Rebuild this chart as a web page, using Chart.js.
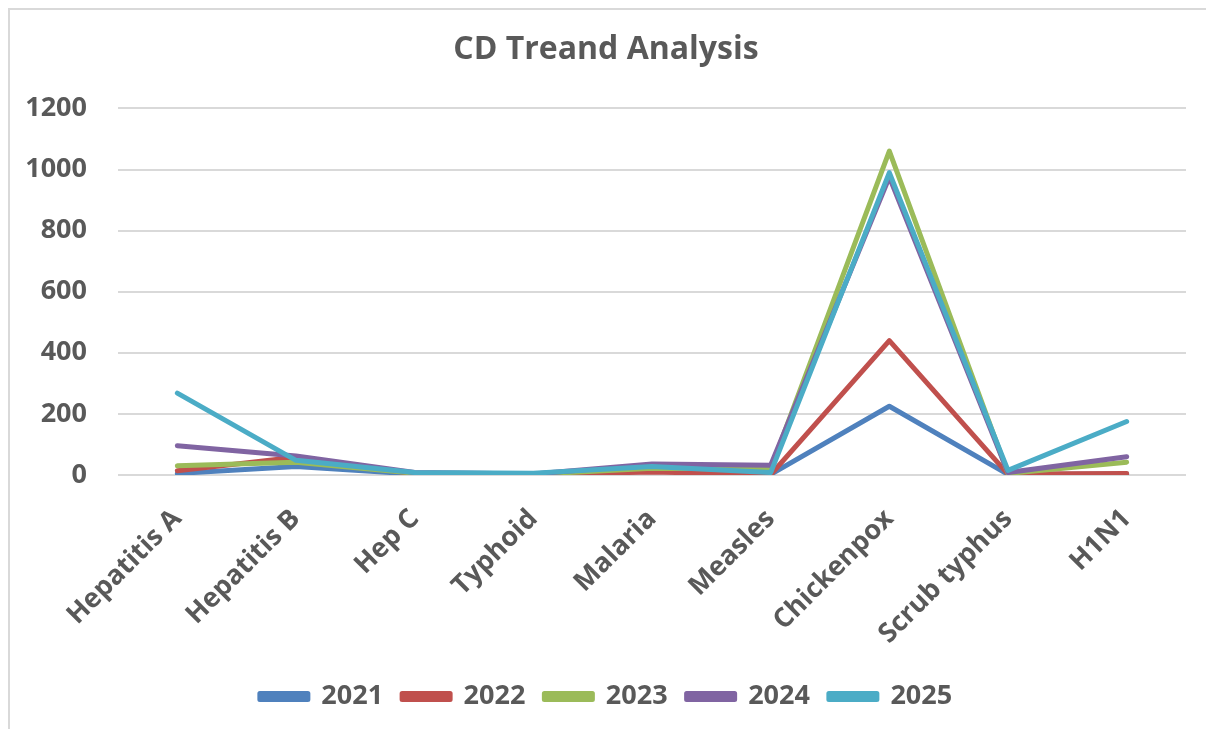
<!DOCTYPE html>
<html>
<head>
<meta charset="utf-8">
<title>CD Treand Analysis</title>
<script src="https://cdn.jsdelivr.net/npm/chart.js@4/dist/chart.umd.min.js"></script>
<style>
  html, body { margin: 0; padding: 0; background: #fff; overflow: hidden; }
  #wrap { position: relative; width: 1206px; height: 729px; }
  #frame {
    position: absolute; left: 8px; top: 8px; width: 1300px; height: 800px;
    border-left: 2px solid #d9d9d9; border-top: 2px solid #d9d9d9;
    pointer-events: none;
  }
  canvas { position: absolute; left: 0; top: 0; }
</style>
</head>
<body>
<div id="wrap">
  <div id="frame"></div>
  <canvas id="cdChart" width="1206" height="729"></canvas>
</div>
<script>
const diseases = ["Hepatitis A", "Hepatitis B", "Hep C", "Typhoid", "Malaria", "Measles", "Chickenpox", "Scrub typhus", "H1N1"];

const cases2021 = [5, 28, 3, 1, 15, 2, 225, 2, 3];
const cases2022 = [14, 58, 4, 1, 10, 1, 440, 3, 5];
const cases2023 = [30, 42, 6, 2, 22, 20, 1060, 5, 42];
const cases2024 = [96, 62, 8, 3, 36, 32, 975, 8, 60];
const cases2025 = [268, 48, 8, 6, 28, 8, 990, 15, 175];

const yearLabels = ["2021", "2022", "2023", "2024", "2025"];
const yearColors = ["#4F81BD", "#C0504D", "#9BBB59", "#8064A2", "#4BACC6"];
const yearValues = [cases2021, cases2022, cases2023, cases2024, cases2025];

const textColor = "#595959";
const fontFamily = "'Open Sans', 'Noto Sans', sans-serif";

// later years go on top, so the datasets are listed newest first
// and the legend is reversed back to 2021..2025
const datasets = yearLabels.map((year, i) => ({
  label: year,
  data: yearValues[i],
  borderColor: yearColors[i],
  backgroundColor: yearColors[i],
  borderWidth: 5,
  borderCapStyle: "round",
  borderJoinStyle: "round",
  pointRadius: 0,
  pointHoverRadius: 0,
  tension: 0,
  fill: false,
})).reverse();

const ctx = document.getElementById("cdChart").getContext("2d");

const cdChart = new Chart(ctx, {
  type: "line",
  data: {
    labels: diseases,
    datasets: datasets,
  },
  options: {
    responsive: false,
    animation: false,
    layout: {
      padding: { left: 26, right: 20, top: 0, bottom: 9 },
    },
    plugins: {
      title: {
        display: true,
        text: "CD Treand Analysis",
        color: textColor,
        font: { family: fontFamily, size: 32, weight: "bold" },
        padding: { top: 31, bottom: 39 },
      },
      legend: {
        position: "bottom",
        reverse: true,
        labels: {
          color: textColor,
          font: { family: fontFamily, size: 27, weight: "bold" },
          boxWidth: 48,
          boxHeight: 6,
          padding: 19,
        },
      },
      tooltip: { enabled: false },
    },
    scales: {
      x: {
        offset: true,
        grid: { display: false, drawTicks: false },
        border: { display: false },
        ticks: {
          color: textColor,
          font: { family: fontFamily, size: 27, weight: "bold" },
          maxRotation: 45,
          minRotation: 45,
          padding: 28,
        },
        // keep the rotated labels from pushing the plot inward
        afterFit: (scale) => {
          scale.height = 189;
          scale.paddingLeft = 0;
          scale.paddingRight = 0;
        },
      },
      y: {
        min: 0,
        max: 1200,
        grid: { color: "#d9d9d9", lineWidth: 2, drawTicks: false },
        border: { display: false },
        ticks: {
          stepSize: 200,
          color: textColor,
          font: { family: fontFamily, size: 27, weight: "bold" },
          padding: 31,
          callback: (value) => String(value),
        },
        afterFit: (scale) => { scale.width = 92; },
      },
    },
  },
});
</script>
</body>
</html>
